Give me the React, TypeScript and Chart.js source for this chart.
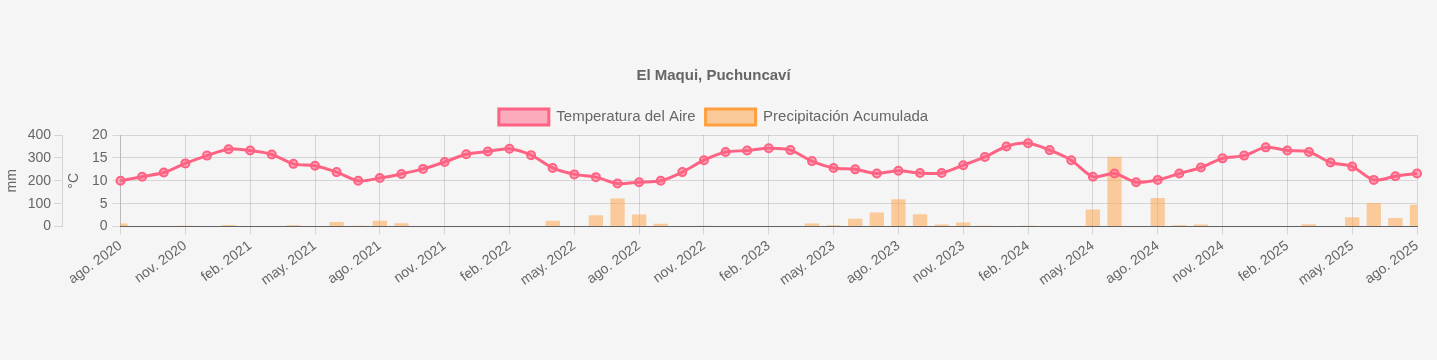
import React, { useEffect, useRef } from "react";
import { Chart, registerables } from "chart.js";

Chart.register(...registerables);

const title = "El Maqui, Puchuncaví";
const tempLabel = "Temperatura del Aire";
const precipLabel = "Precipitación Acumulada";

const months: string[] = [
  "ago. 2020", "sep. 2020", "oct. 2020", "nov. 2020", "dic. 2020",
  "ene. 2021", "feb. 2021", "mar. 2021", "abr. 2021", "may. 2021", "jun. 2021", "jul. 2021",
  "ago. 2021", "sep. 2021", "oct. 2021", "nov. 2021", "dic. 2021",
  "ene. 2022", "feb. 2022", "mar. 2022", "abr. 2022", "may. 2022", "jun. 2022", "jul. 2022",
  "ago. 2022", "sep. 2022", "oct. 2022", "nov. 2022", "dic. 2022",
  "ene. 2023", "feb. 2023", "mar. 2023", "abr. 2023", "may. 2023", "jun. 2023", "jul. 2023",
  "ago. 2023", "sep. 2023", "oct. 2023", "nov. 2023", "dic. 2023",
  "ene. 2024", "feb. 2024", "mar. 2024", "abr. 2024", "may. 2024", "jun. 2024", "jul. 2024",
  "ago. 2024", "sep. 2024", "oct. 2024", "nov. 2024", "dic. 2024",
  "ene. 2025", "feb. 2025", "mar. 2025", "abr. 2025", "may. 2025", "jun. 2025", "jul. 2025",
  "ago. 2025",
];

const temperature: number[] = [
  10.0, 10.9, 11.8, 13.8, 15.5, 16.9, 16.6, 15.75, 13.7, 13.3, 11.9, 10.0,
  10.6, 11.5, 12.6, 14.1, 15.8, 16.4, 17.0, 15.6, 12.8, 11.4, 10.8, 9.4,
  9.7, 10.0, 11.9, 14.5, 16.3, 16.6, 17.1, 16.7, 14.3, 12.8, 12.5, 11.6,
  12.2, 11.7, 11.7, 13.4, 15.2, 17.5, 18.2, 16.7, 14.5, 10.9, 11.6, 9.7,
  10.2, 11.6, 12.9, 14.9, 15.5, 17.3, 16.6, 16.3, 14.0, 13.1, 10.2, 11.0, 11.6,
];

const precipitation: number[] = [
  13, 3, 0, 4, 0, 7, 0, 0, 6, 0, 20, 4,
  25, 15, 0, 0, 0, 0, 0, 0, 26, 0, 50, 123,
  53, 12, 0, 4, 0, 0, 0, 0, 13, 6, 34, 62,
  119, 54, 9, 18, 4, 0, 4, 0, 0, 75, 305, 0,
  125, 6, 9, 0, 0, 0, 0, 10, 0, 41, 103, 37, 95,
];

const FONT = "'Liberation Sans', Arial, Helvetica, sans-serif";
const TEXT = "#666";
const GRID = "rgba(0,0,0,0.13)";

export default function App() {
  const ref = useRef<HTMLCanvasElement | null>(null);

  useEffect(() => {
    document.body.style.margin = "0";
    document.body.style.background = "#f5f5f5";
    Chart.defaults.font.family = FONT;
    Chart.defaults.font.size = 14;
    Chart.defaults.color = TEXT;
    const chart = new Chart(ref.current as HTMLCanvasElement, {
      data: {
        labels: months,
        datasets: [
          {
            type: "line",
            label: tempLabel,
            data: temperature,
            yAxisID: "y",
            borderColor: "rgb(255,99,132)",
            backgroundColor: "rgba(255,99,132,0.5)",
            borderWidth: 3,
            pointRadius: 4,
            pointBorderWidth: 2,
            tension: 0.3,
          },
          {
            type: "bar",
            label: precipLabel,
            data: precipitation,
            yAxisID: "y1",
            backgroundColor: "rgba(255,159,64,0.5)",
            borderColor: "rgb(255,159,64)",
            borderWidth: 0,
            barPercentage: 0.9,
            categoryPercentage: 0.735,
          },
        ],
      },
      options: {
        animation: false,
        responsive: true,
        maintainAspectRatio: false,
        layout: { padding: { top: 57, bottom: 68, left: 10, right: 20 } },
        plugins: {
          title: {
            display: true,
            text: title,
            color: TEXT,
            padding: { top: 10, bottom: 14 },
            font: { size: 15, weight: "bold" },
          },
          legend: {
            labels: {
              boxWidth: 50,
              boxHeight: 16,
              color: TEXT,
              font: { size: 15 },
              generateLabels: (c: any) => {
                const items = Chart.defaults.plugins.legend.labels.generateLabels(c);
                return items.map((it: any, i: number) => ({
                  ...it,
                  lineWidth: 3,
                  strokeStyle: i === 0 ? "rgb(255,99,132)" : "rgb(255,159,64)",
                  fillStyle: i === 0 ? "rgba(255,99,132,0.5)" : "rgba(255,159,64,0.5)",
                }));
              },
            },
          },
          tooltip: { enabled: false },
        },
        scales: {
          x: {
            type: "category",
            offset: false,
            grid: { color: GRID, offset: false },
            border: { color: "rgba(0,0,0,0.55)" },
            ticks: {
              autoSkip: false,
              minRotation: 36,
              maxRotation: 36,
              color: TEXT,
              font: { size: 14 },
              callback: (_v: any, i: number) => (i % 3 === 0 ? months[i] : null),
            },
          },
          y: {
            position: "left",
            min: 0,
            max: 20,
            title: { display: true, text: "°C", color: TEXT, font: { size: 14 } },
            grid: { color: GRID },
            border: { color: GRID },
            ticks: { stepSize: 5, padding: 5, color: TEXT, font: { size: 14 } },
          },
          y1: {
            position: "left",
            min: 0,
            max: 400,
            title: {
              display: true,
              text: "mm",
              color: TEXT,
              padding: { top: -6, bottom: 4 },
              font: { size: 14 },
            },
            grid: { color: GRID, drawOnChartArea: false },
            border: { color: GRID },
            ticks: { stepSize: 100, color: TEXT, font: { size: 14 } },
          },
        },
      } as any,
    });
    return () => chart.destroy();
  }, []);

  return (
    <div style={{ position: "relative", width: "1437px", height: "360px" }}>
      <canvas ref={ref} />
    </div>
  );
}
